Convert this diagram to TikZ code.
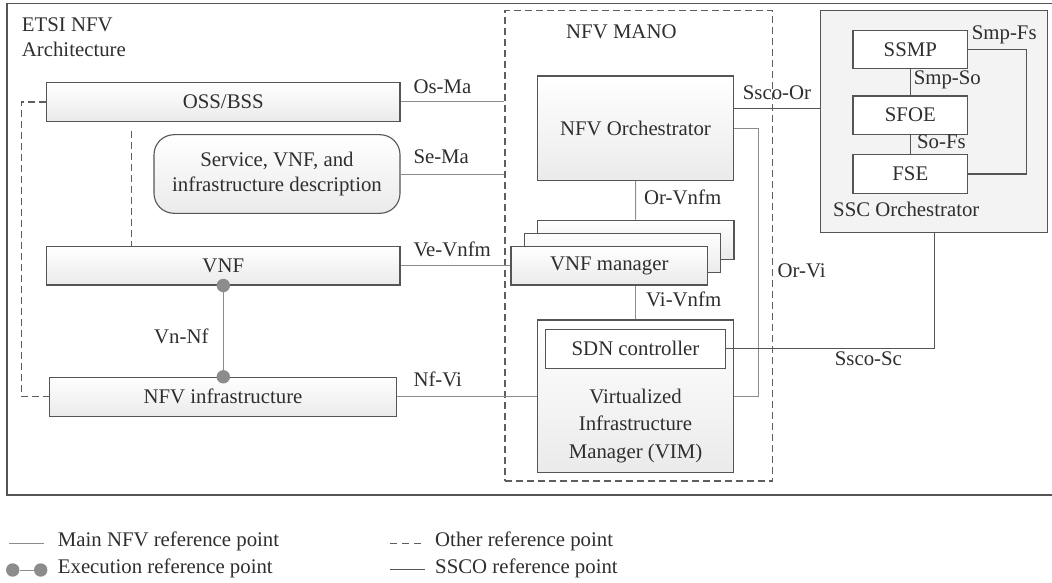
\documentclass[tikz,border=0pt]{standalone}
\usepackage{fontspec}
\setmainfont{Liberation Serif}
\begin{document}
\begin{tikzpicture}[x=1pt,y=-1pt,
  font=\fontsize{20.8}{24.4}\selectfont,
  box/.style={draw=edge, line width=1.1pt, top color=white, bottom color=black!8,
    inner sep=0pt, text=ink},
  whitebox/.style={draw=edge, line width=1.1pt, fill=white, inner sep=0pt, text=ink},
  mainref/.style={draw=refgray, line width=1pt},
  sscoref/.style={draw=edge, line width=1.1pt},
  otherref/.style={draw=dashgray, line width=1.15pt, dash pattern=on 7pt off 4pt},
  lbl/.style={anchor=west, inner sep=0pt, text=ink, text height=0.66em, text depth=0pt},
  dotnode/.style={circle, fill=refgray, inner sep=0pt, minimum size=13.4pt}]
\definecolor{ink}{HTML}{2E2E2E}
\definecolor{edge}{HTML}{555555}
\definecolor{refgray}{HTML}{8C8C8C}
\definecolor{dashgray}{HTML}{5E5E5E}
\definecolor{sscfill}{HTML}{F3F3F3}

\useasboundingbox (0,0) rectangle (1052,583);

% outer frame (its right side runs off the page)
\draw[edge, line width=1.2pt] (1052,3.5) -- (7,3.5) -- (7,495) -- (1052,495);
\node[lbl] (etsi) at (21.7,28.3) {ETSI NFV};
\node[lbl] (arch) at (21.7,53.3) {Architecture};

% NFV MANO group
\node[draw=dashgray, line width=1.15pt, dash pattern=on 7pt off 4pt,
  minimum width=267.7pt, minimum height=470.3pt, inner sep=0pt] (mano) at (638.85,245.85) {};
\node[lbl] (manolbl) at (566,35) {NFV MANO};

% SSC orchestrator group
\node[draw=edge, line width=1.1pt, fill=sscfill, minimum width=227.2pt,
  minimum height=222pt, inner sep=0pt] (ssc) at (934.1,121.7) {};
\node[lbl] (ssclbl) at (833,213.3) {SSC Orchestrator};
\node[whitebox, minimum width=114.6pt, minimum height=38.3pt] (ssmp) at (910.3,49.8) {SSMP};
\node[whitebox, minimum width=114.6pt, minimum height=38.3pt] (sfoe) at (910.3,115.2) {SFOE};
\node[whitebox, minimum width=114.6pt, minimum height=38.6pt] (fse) at (910.3,174) {FSE};

% left-hand blocks
\node[box, minimum width=353.3pt, minimum height=38.6pt] (oss) at (223.3,102) {OSS/BSS};
\node[box, rounded corners=20pt, minimum width=246pt, minimum height=78.6pt, align=center]
  (svc) at (277,174) {Service, VNF, and\\infrastructure description};
\node[box, minimum width=353.3pt, minimum height=38.3pt] (vnf) at (223.3,265.8) {VNF};
\node[box, minimum width=347.4pt, minimum height=38.7pt] (nfvi) at (223,396.7) {NFV infrastructure};

% MANO blocks
\node[box, minimum width=196.3pt, minimum height=104.3pt] (orch) at (635.5,128.2) {NFV Orchestrator};
\node[box, minimum width=196.7pt, minimum height=39.3pt] (vnfmc) at (635.6,239.7) {};
\node[box, minimum width=196.7pt, minimum height=39.3pt] (vnfmb) at (622.5,252.7) {};
\node[box, minimum width=196.7pt, minimum height=38.3pt] (vnfm) at (609.3,265.8) {VNF manager};
\node[box, minimum width=196.3pt, minimum height=152.7pt] (vim) at (635.5,396.3) {};
\node[whitebox, minimum width=180pt, minimum height=39pt] (sdn) at (635.5,348.8) {SDN controller};
\node[inner sep=0pt, text=ink, align=center, font=\fontsize{20.8}{27.7}\selectfont]
  (vimlbl) at (635.5,426) {Virtualized\\Infrastructure\\Manager (VIM)};

% main NFV reference points
\draw[mainref] (oss.east) -- (oss.east -| mano.west);
\draw[mainref] (svc.east) -- (svc.east -| mano.west);
\draw[mainref] (vnf.east) -- (vnf.east -| vnfm.west);
\draw[mainref] (nfvi.east) -- (nfvi.east -| vim.west);
\draw[mainref] (orch.south) -- (vnfmc.north);
\draw[mainref] (vim.north) -- (vim.north |- vnfm.south);
\draw[mainref] (orch.east) -- ++(24.5,0) |- (vim.east);

\node[lbl] (osma) at (413.3,90) {Os-Ma};
\node[lbl] (sema) at (413.3,160) {Se-Ma};
\node[lbl] (vevnfm) at (413.3,253.3) {Ve-Vnfm};
\node[lbl] (nfvi-lbl) at (413.3,383.3) {Nf-Vi};
\node[lbl] (orvnfm) at (644,200.7) {Or-Vnfm};
\node[lbl] (vivnfm) at (646,302.7) {Vi-Vnfm};
\node[lbl] (orvi) at (777.5,274) {Or-Vi};

% execution reference point
\draw[mainref] (vnf.south) -- (vnf.south |- nfvi.north);
\node[dotnode] (dvnf) at (vnf.south) {};
\node[dotnode] (dnfvi) at (vnf.south |- nfvi.north) {};
\node[lbl] (vnnf) at (154,340) {Vn-Nf};

% other reference points
\draw[otherref] ([xshift=-91.6pt, yshift=-8.7pt]oss.south) -- ([xshift=-91.6pt]vnf.north);
\draw[otherref] (oss.west) -- ++(-24.7,0) |- (nfvi.west);

% SSCO reference points
\draw[sscoref] ([yshift=19.7pt]orch.east) coordinate (sso) -- (sso -| ssc.west);
\draw[sscoref] (sdn.east) -| (ssc.south);
\draw[sscoref] (ssmp.south) -- (sfoe.north);
\draw[sscoref] (sfoe.south) -- (fse.north);
\draw[sscoref] (ssmp.east) -- ++(58.7,0) |- (fse.east);

\node[lbl] (sscoor) at (742.7,96) {Ssco-Or};
\node[lbl] (sscosc) at (834.7,361.7) {Ssco-Sc};
\node[lbl] (smpfs) at (971.7,36.7) {Smp-Fs};
\node[lbl] (smpso) at (913.6,81.7) {Smp-So};
\node[lbl] (sofs) at (916.9,145.7) {So-Fs};

% legend
\coordinate (lg1a) at (9.3,543.3);
\coordinate (lg1b) at (44,543.3);
\draw[mainref] (lg1a) -- (lg1b);
\node[lbl] (lgt1) at (57.7,543) {Main NFV reference point};
\node[dotnode] (lgd1) at (12.7,570) {};
\node[dotnode] (lgd2) at (40.7,570) {};
\draw[mainref] (lgd1) -- (lgd2);
\node[lbl] (lgt2) at (57.7,570) {Execution reference point};
\coordinate (lg3a) at (390,543.3);
\coordinate (lg3b) at (425,543.3);
\draw[otherref, line width=0.9pt, dash pattern=on 7pt off 5pt] (lg3a) -- (lg3b);
\node[lbl] (lgt3) at (435,543) {Other reference point};
\coordinate (lg4a) at (390,569.5);
\coordinate (lg4b) at (425,569.5);
\draw[sscoref] (lg4a) -- (lg4b);
\node[lbl] (lgt4) at (435,570) {SSCO reference point};
\end{tikzpicture}
\end{document}
